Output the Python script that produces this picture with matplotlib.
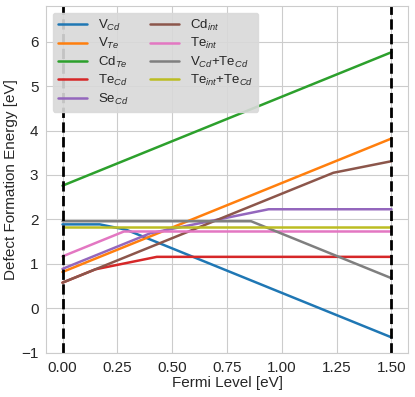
import matplotlib
matplotlib.use("Agg")
import matplotlib.pyplot as plt
import seaborn as sns

# kink points (Fermi level [eV], formation energy [eV])
fermi_vcd = [0.0, 0.17, 0.29, 1.5]
e_vcd = [1.89, 1.89, 1.77, -0.65]
fermi_vte = [0.0, 1.5]
e_vte = [0.82, 3.82]
fermi_cdte = [0.0, 1.5]
e_cdte = [2.76, 5.76]
fermi_tecd = [0.0, 0.15, 0.43, 1.5]
e_tecd = [0.58, 0.88, 1.16, 1.16]
fermi_secd = [0.0, 0.40, 0.94, 1.5]
e_secd = [0.89, 1.69, 2.23, 2.23]
fermi_cdint = [0.0, 1.235, 1.5]
e_cdint = [0.58, 3.05, 3.31]
fermi_teint = [0.0, 0.28, 1.5]
e_teint = [1.17, 1.73, 1.73]
fermi_vcd_tecd = [0.0, 0.86, 1.5]
e_vcd_tecd = [1.96, 1.96, 0.68]
fermi_teint_tecd = [0.0, 1.5]
e_teint_tecd = [1.83, 1.83]

labels = [r"V$_{Cd}$", r"V$_{Te}$", r"Cd$_{Te}$", r"Te$_{Cd}$", r"Se$_{Cd}$",
          r"Cd$_{int}$", r"Te$_{int}$", r"V$_{Cd}$+Te$_{Cd}$", r"Te$_{int}$+Te$_{Cd}$"]
series = [(fermi_vcd, e_vcd), (fermi_vte, e_vte), (fermi_cdte, e_cdte),
          (fermi_tecd, e_tecd), (fermi_secd, e_secd), (fermi_cdint, e_cdint),
          (fermi_teint, e_teint), (fermi_vcd_tecd, e_vcd_tecd),
          (fermi_teint_tecd, e_teint_tecd)]
band_edges = [0.0, 1.5]

sns.set_style("whitegrid")
plt.rcParams['font.family'] = ['Liberation Sans', 'DejaVu Sans']
plt.rcParams['mathtext.fontset'] = 'custom'
plt.rcParams['mathtext.rm'] = 'Liberation Sans'
plt.rcParams['mathtext.it'] = 'Liberation Sans:italic'

fig, ax = plt.subplots(figsize=(4.15, 3.97), dpi=100)
fig.subplots_adjust(left=0.111, right=0.983, top=0.985, bottom=0.111)

for (x, y), lab in zip(series, labels):
    ax.plot(x, y, lw=1.8, label=lab)

for edge in band_edges:
    ax.axvline(edge, color="black", ls="--", lw=2)

ax.set_xlim(-0.075, 1.575)
ax.set_ylim(-1, 6.8)
ax.set_xticks([0, 0.25, 0.5, 0.75, 1.0, 1.25, 1.5])
ax.set_xticklabels(["0.00", "0.25", "0.50", "0.75", "1.00", "1.25", "1.50"])
ax.tick_params(labelsize=11, pad=2)
ax.set_xlabel("Fermi Level [eV]", fontsize=11, labelpad=1)
ax.set_ylabel("Defect Formation Energy [eV]", fontsize=11, labelpad=2)
ax.legend(ncol=2, loc="upper left", fontsize=9.5, frameon=True, facecolor="#d9d9d9",
          edgecolor="#d9d9d9", framealpha=0.9, handlelength=2.2,
          labelspacing=0.25, columnspacing=1.7, borderpad=0.4)

fig.savefig("out.png", dpi=100)
